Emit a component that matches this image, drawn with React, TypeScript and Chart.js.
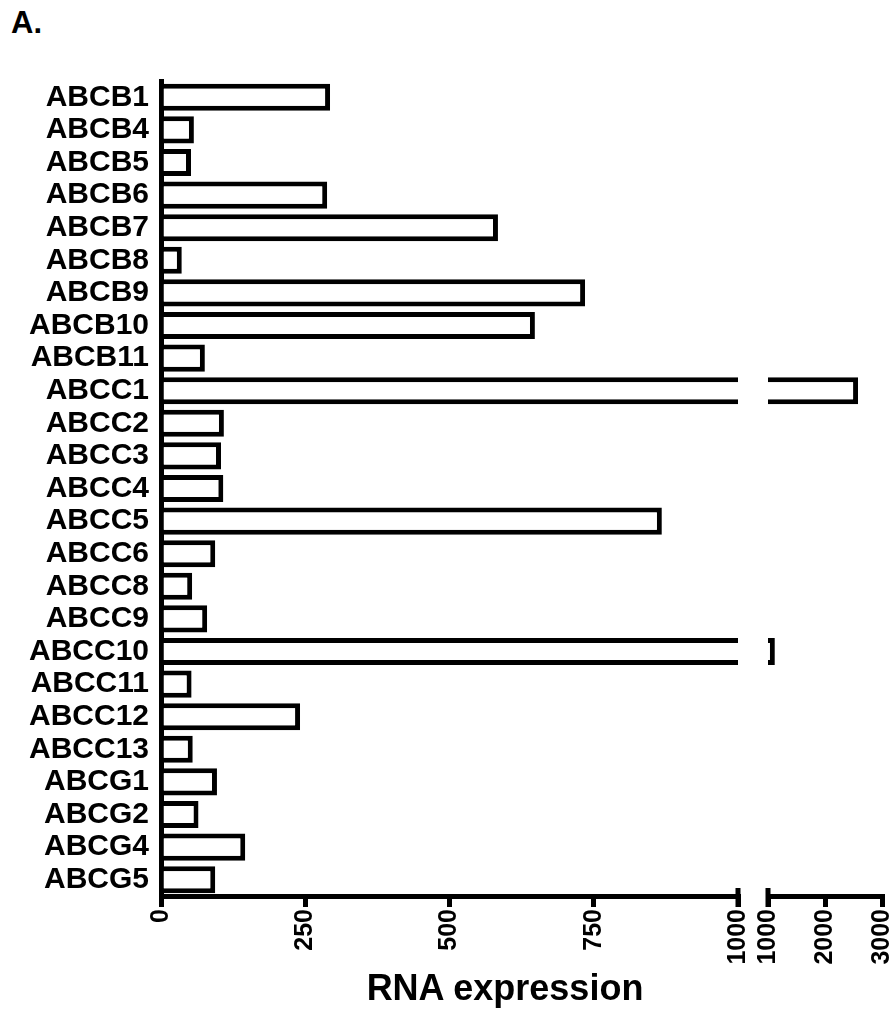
import React, { useEffect, useRef } from "react";
import { Chart, registerables } from "chart.js";

Chart.register(...registerables);

const PANEL_LABEL = "A.";
const X_TITLE = "RNA expression";

const CATEGORIES = [
  "ABCB1", "ABCB4", "ABCB5", "ABCB6", "ABCB7", "ABCB8", "ABCB9", "ABCB10", "ABCB11",
  "ABCC1", "ABCC2", "ABCC3", "ABCC4", "ABCC5", "ABCC6", "ABCC8", "ABCC9", "ABCC10",
  "ABCC11", "ABCC12", "ABCC13", "ABCG1", "ABCG2", "ABCG4", "ABCG5",
];

const RNA_EXPRESSION = [
  293, 57, 52, 288, 584, 36, 735, 648, 76,
  2580, 109, 104, 108, 868, 94, 54, 80, 1120,
  53, 241, 55, 97, 65, 146, 94,
];

const AXIS_BREAK = 1000;
const AXIS_MAX = 3000;
const LOW_TICKS = [0, 250, 500, 750, 1000];
const HIGH_TICKS = [1000, 2000, 3000];

const FONT = "'Liberation Sans', Arial, Helvetica, sans-serif";

const breakCap = {
  id: "breakCap",
  afterDraw(chart: any, _args: any, opts: any) {
    const x = chart.scales.x;
    const ctx = chart.ctx;
    const px = x.getPixelForValue(opts.value);
    const y = x.top;
    ctx.save();
    ctx.strokeStyle = "#000";
    ctx.lineWidth = 5;
    ctx.beginPath();
    ctx.moveTo(px, y - 8);
    ctx.lineTo(px, y + 11);
    ctx.stroke();
    ctx.restore();
  },
};

function xScale(min: number, max: number, ticks: number[]) {
  return {
    type: "linear",
    position: "bottom",
    min,
    max,
    afterBuildTicks: (s: any) => {
      s.ticks = ticks.map((v) => ({ value: v }));
    },
    afterFit: (s: any) => {
      s.height = 70;
      s.paddingLeft = 0;
      s.paddingRight = 0;
    },
    grid: {
      display: true,
      drawOnChartArea: false,
      drawTicks: true,
      tickLength: 11,
      color: "#000",
      lineWidth: 5,
    },
    border: { display: true, color: "#000", width: 5 },
    ticks: {
      minRotation: 90,
      maxRotation: 90,
      autoSkip: false,
      padding: 2,
      color: "#000",
      font: { family: FONT, size: 25, weight: "bold" },
      callback: (v: any) => String(v),
    },
  };
}

export default function App() {
  const leftRef = useRef<HTMLCanvasElement>(null);
  const rightRef = useRef<HTMLCanvasElement>(null);

  useEffect(() => {
    const dsCommon = {
      backgroundColor: "#fff",
      borderColor: "#000",
      borderWidth: 5,
      barPercentage: 0.83,
      categoryPercentage: 1,
      clip: 0,
    };

    const left = new Chart(leftRef.current as HTMLCanvasElement, {
      type: "bar",
      data: {
        labels: CATEGORIES,
        datasets: [{ ...dsCommon, data: RNA_EXPRESSION }],
      },
      options: {
        indexAxis: "y",
        animation: false,
        responsive: false,
        maintainAspectRatio: false,
        devicePixelRatio: 1,
        layout: { padding: { top: 81, right: 22, bottom: 14, left: 0 } },
        plugins: {
          legend: { display: false },
          tooltip: { enabled: false },
          breakCap: { value: AXIS_BREAK },
        },
        scales: {
          x: xScale(0, AXIS_BREAK, LOW_TICKS),
          y: {
            type: "category",
            position: "left",
            afterFit: (s: any) => {
              s.width = 161;
              s.paddingTop = 0;
              s.paddingBottom = 0;
            },
            grid: { display: false, drawTicks: false },
            border: { display: true, color: "#000", width: 5 },
            ticks: {
              padding: 12,
              autoSkip: false,
              color: "#000",
              font: { family: FONT, size: 30, weight: "bold" },
            },
          },
        },
      } as any,
      plugins: [breakCap],
    });

    const right = new Chart(rightRef.current as HTMLCanvasElement, {
      type: "bar",
      data: {
        labels: CATEGORIES,
        datasets: [
          {
            ...dsCommon,
            data: RNA_EXPRESSION.map((v) => (v > AXIS_BREAK ? v : null)),
          },
        ],
      },
      options: {
        indexAxis: "y",
        animation: false,
        responsive: false,
        maintainAspectRatio: false,
        devicePixelRatio: 1,
        layout: { padding: { top: 81, right: 12, bottom: 14, left: 16 } },
        plugins: {
          legend: { display: false },
          tooltip: { enabled: false },
          breakCap: { value: AXIS_BREAK },
        },
        scales: {
          x: xScale(AXIS_BREAK, AXIS_MAX, HIGH_TICKS),
          y: {
            type: "category",
            display: false,
            afterFit: (s: any) => {
              s.paddingTop = 0;
              s.paddingBottom = 0;
            },
          },
        },
      } as any,
      plugins: [breakCap],
    });

    return () => {
      left.destroy();
      right.destroy();
    };
  }, []);

  return (
    <div
      style={{
        position: "fixed",
        left: 0,
        top: 0,
        width: 894,
        height: 1020,
        background: "#fff",
        fontFamily: FONT,
        color: "#000",
        overflow: "hidden",
      }}
    >
      <div
        style={{
          position: "absolute",
          left: 11,
          top: 6,
          fontSize: 31,
          lineHeight: "34px",
          fontWeight: "bold",
        }}
      >
        {PANEL_LABEL}
      </div>
      <canvas
        ref={leftRef}
        width={760}
        height={980}
        style={{ position: "absolute", left: 0, top: 0, width: 760, height: 980 }}
      />
      <canvas
        ref={rightRef}
        width={142}
        height={980}
        style={{ position: "absolute", left: 752, top: 0, width: 142, height: 980 }}
      />
      <div
        style={{
          position: "absolute",
          left: 305,
          width: 400,
          top: 968,
          textAlign: "center",
          fontSize: 36,
          lineHeight: "40px",
          fontWeight: "bold",
        }}
      >
        {X_TITLE}
      </div>
    </div>
  );
}
